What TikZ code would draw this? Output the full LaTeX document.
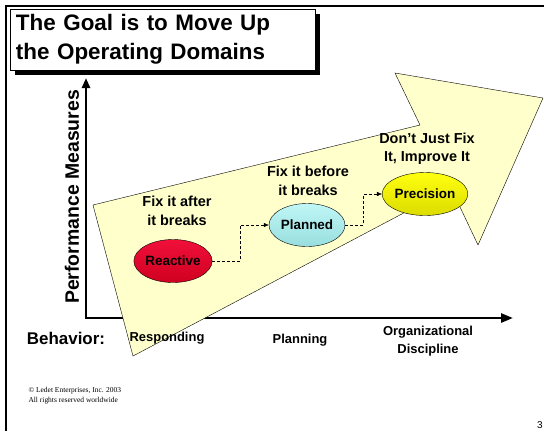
\documentclass[tikz,border=0pt]{standalone}
\usepackage{fontspec}
\setmainfont{Liberation Sans}
\newfontfamily\notefont{Liberation Serif}
\usetikzlibrary{positioning,arrows.meta,shapes,calc}

\definecolor{arrowfill}{HTML}{FFFFCC}
\definecolor{reacttop}{HTML}{F0103A}
\definecolor{reactbot}{HTML}{D00020}
\definecolor{plantop}{HTML}{C0F6F6}
\definecolor{planbot}{HTML}{98DEDE}
\definecolor{prectop}{HTML}{FFFF10}
\definecolor{precbot}{HTML}{DCDC00}

\tikzset{
  caption/.style={font=\bfseries\fontsize{14.5}{18.5}\selectfont, align=center},
  axislabel/.style={font=\bfseries\fontsize{13}{17.5}\selectfont, align=center},
  opdomain/.style={ellipse, draw, thin, minimum width=76bp, minimum height=43bp,
    inner sep=0pt, font=\bfseries\fontsize{13.5}{16}\selectfont},
  flow/.style={densely dashed, thin, -{Latex[length=5bp,width=4.5bp]}},
  axis/.style={line width=2.6bp, {Triangle[length=10bp,width=8bp]}-{Triangle[length=12bp,width=9bp]}}
}

\begin{document}
\begin{tikzpicture}[x=1bp, y=-1bp]
    \useasboundingbox (0,0) rectangle (544,431);
    \fill[white] (0,0) rectangle (544,431);

    % Slide frame
    \draw[line width=2bp] (6,431) -- (6,6) -- (544,6);

    % Title box with shadow
    \node[draw, fill=white, thin, minimum width=305bp, minimum height=61bp,
          text width=293bp, inner xsep=6bp, align=left,
          font=\bfseries\fontsize{22.5}{29}\selectfont] (title) at (162.5,39.5)
          {The Goal is to Move Up\\the Operating Domains};
    \fill ($(title.south west)+(5,0)$) rectangle ($(title.south east)+(5,5)$);
    \fill ($(title.north east)+(0,5)$) rectangle ($(title.south east)+(5,5)$);

    % Axes
    \coordinate (ytip) at (86,78);
    \coordinate (xtip) at (513,318);
    \draw[axis] (ytip) |- (xtip);
    \node[font=\bfseries\fontsize{19.5}{22}\selectfont, rotate=90] (perf) at (72,197) {Performance Measures};

    % Big arrow
    \draw[fill=arrowfill, thin] (93,205) -- (420,125) -- (395,73) -- (543,98)
        -- (478,245) -- (451,188) -- (133,356) -- cycle;

    % Behavior labels
    \node[font=\bfseries\fontsize{17}{20}\selectfont] (behav) at (66,338) {Behavior:};
    \node[axislabel] (resp) at (167,338) {Responding};
    \node[axislabel] (plng) at (300,340) {Planning};
    \node[axislabel] (disc) at (428,341) {Organizational\\Discipline};

    % Operating domains
    \node[opdomain, top color=reacttop, bottom color=reactbot] (reac) at (173,261) {Reactive};
    \node[opdomain, top color=plantop, bottom color=planbot] (plan) at (307,225) {Planned};
    \node[opdomain, top color=prectop, bottom color=precbot] (prec) at (425,194) {Precision};

    \node[caption] (after) at (177,211) {Fix it after\\it breaks};
    \node[caption] (before) at (308,181) {Fix it before\\it breaks};
    \node[caption] (improve) at (427,149) {Don’t Just Fix\\It, Improve It};

    % Steps between domains
    \coordinate (s1) at ($(reac.east)!.5!(plan.west)$);
    \coordinate (s2) at ($(plan.east)!.5!(prec.west)$);
    \draw[flow] (reac.east) -| (s1) |- (plan.west);
    \draw[flow] (plan.east) -| (s2) |- (prec.west);

    % Footer
    \node[anchor=west, align=left, font=\notefont\fontsize{7.5}{10}\selectfont] (copy) at (25,396)
        {© Ledet Enterprises, Inc. 2003\\All rights reserved worldwide};
    \node[font=\fontsize{10}{12}\selectfont] (page) at (540,425) {3};
\end{tikzpicture}
\end{document}
